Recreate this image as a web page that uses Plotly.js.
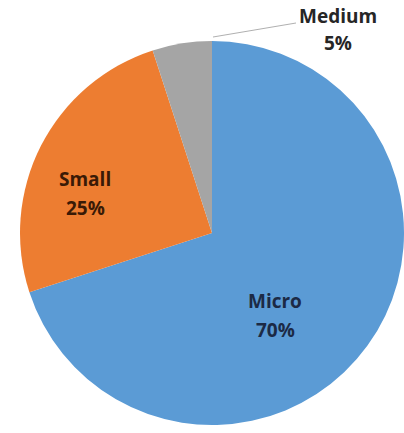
<!DOCTYPE html>
<html>
<head>
<meta charset="utf-8">
<script src="https://cdn.plot.ly/plotly-3.0.1.min.js"></script>
<style>html,body{margin:0;padding:0;background:#fff;}#chart{width:404px;height:433px;}</style>
</head>
<body>
<div id="chart"></div>
<script>
const categories = ["Micro", "Small", "Medium"];
const shares = [70, 25, 5];
const percentLabels = ["70%", "25%", "5%"];
const sliceColors = ["#5B9BD5", "#ED7D31", "#A5A5A5"];
const labelColors = ["#1c2a45", "#3a1a06", "#262626"];

// label placement (pixels in the 404x433 frame): [x, name y, percent y]
const labelPos = [[275, 301, 330], [85, 179, 208], [338, 16, 43]];

const W = 404, H = 433;
const fontFam = "'Open Sans', Lato, sans-serif";

const pieTrace = {
  type: "pie",
  labels: categories,
  values: shares,
  sort: false,
  direction: "clockwise",
  rotation: 0,
  marker: {colors: sliceColors, line: {width: 0}},
  textinfo: "none",
  domain: {x: [20 / W, 1], y: [1 - 425 / H, 1 - 41 / H]},
  hoverinfo: "none",
  showlegend: false
};

const annotations = [];
categories.forEach((c, i) => {
  const p = labelPos[i];
  annotations.push({
    xref: "paper", yref: "paper", x: p[0] / W, y: 1 - p[1] / H,
    text: "<b>" + c + "</b>", showarrow: false,
    font: {family: fontFam, size: 19, color: labelColors[i]},
    xanchor: "center", yanchor: "middle"
  });
  annotations.push({
    xref: "paper", yref: "paper", x: p[0] / W, y: 1 - p[2] / H,
    text: "<b>" + percentLabels[i] + "</b>", showarrow: false,
    font: {family: fontFam, size: 19, color: labelColors[i]},
    xanchor: "center", yanchor: "middle"
  });
});

const layout = {
  width: W,
  height: H,
  margin: {l: 0, r: 0, t: 0, b: 0},
  paper_bgcolor: "#ffffff",
  showlegend: false,
  shapes: [{
    type: "line", xref: "paper", yref: "paper",
    x0: 213 / W, y0: 1 - 37 / H, x1: 296 / W, y1: 1 - 23 / H,
    line: {color: "#b0b0b0", width: 1}
  }],
  annotations: annotations
};

Plotly.newPlot("chart", [pieTrace], layout, {displayModeBar: false, staticPlot: true});
</script>
</body>
</html>
